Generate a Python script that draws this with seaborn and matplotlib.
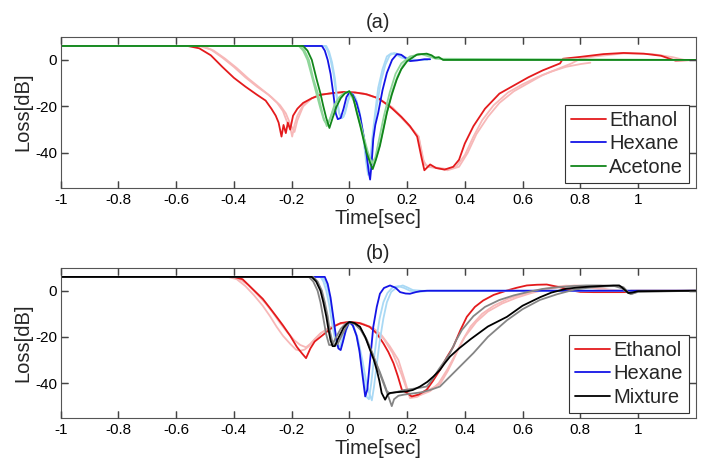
import matplotlib
matplotlib.use("Agg")
import matplotlib.pyplot as plt
import seaborn as sns

# ---------------- panel (a) ----------------
# Ethanol, main run and two repeats
eth_a_t = [-1.0, -0.56, -0.52, -0.48, -0.44, -0.40, -0.36, -0.32, -0.29, -0.27, -0.255, -0.245,
           -0.235, -0.228, -0.22, -0.213, -0.205, -0.195, -0.18, -0.16, -0.13, -0.10, -0.06, -0.02,
           0.02, 0.06, 0.10, 0.14, 0.18, 0.21, 0.235, 0.25, 0.26, 0.28, 0.30, 0.33, 0.36, 0.38, 0.40,
           0.43, 0.47, 0.52, 0.57, 0.62, 0.67, 0.72, 0.73, 0.74, 0.80, 0.88, 0.95, 1.02, 1.08, 1.11,
           1.13, 1.2]
eth_a_y = [6, 6, 5, 2, -3, -7.7, -11.5, -15, -17.5, -21, -24, -27,
           -33, -28, -31.5, -27, -30, -24, -21, -18.5, -16.5, -15, -14.3, -13.8,
           -14, -14.8, -16.5, -20, -24.5, -28.5, -33, -42, -47.5, -45, -46.5, -47.2, -46, -43, -36,
           -28.5, -21, -14.5, -11, -7.5, -4.5, -2, -1.5, 0.5, 1.3, 2.5, 3.0, 2.7, 1.8, 0.5,
           -0.3, 0]
eth_a_r1_t = [-1.0, -0.52, -0.48, -0.44, -0.40, -0.36, -0.32, -0.28, -0.25, -0.23, -0.215, -0.205,
              -0.198, -0.19, -0.18, -0.16, -0.13, -0.10, -0.05, 0.0, 0.05, 0.10, 0.15, 0.20, 0.24,
              0.26, 0.28, 0.31, 0.34, 0.37, 0.40, 0.43, 0.46, 0.50, 0.55, 0.60, 0.65, 0.70, 0.75,
              0.80, 0.835]
eth_a_r1_y = [6, 6, 4.5, 1, -3, -7.5, -11.5, -15, -18.5, -22, -27, -29,
              -33, -28, -24, -19.5, -16.5, -15, -14.2, -13.9, -14.5, -16.5, -21, -27.5, -33,
              -45, -46, -46.5, -47, -46, -41, -33, -26, -19.5, -14, -10.5, -7.5, -5, -3,
              -1.8, -1.2]
eth_a_r2_t = [-1.0, -0.51, -0.47, -0.43, -0.39, -0.35, -0.31, -0.27, -0.24, -0.22, -0.205, -0.19,
              -0.18, -0.16, -0.13, -0.10, -0.05, 0.0, 0.05, 0.10, 0.15, 0.20, 0.24, 0.255, 0.27,
              0.30, 0.34, 0.38, 0.41, 0.44, 0.48, 0.52, 0.57, 0.62, 0.67, 0.72, 0.77, 0.80, 0.85,
              0.95, 1.05, 1.12, 1.16]
eth_a_r2_y = [6, 6, 4, 0.5, -3.5, -8, -12, -16, -19.5, -23, -27.5, -31,
              -26, -20, -16.5, -15, -14.2, -13.9, -14.5, -16.5, -20.5, -27, -33, -43, -46,
              -46.5, -47.5, -46, -40, -32, -24.5, -18.5, -13.5, -10, -6.5, -4, -1.5, 0.5, 1.5,
              2.8, 2.5, 1.2, 0]

# Hexane
hex_a_t = [-1.0, -0.095, -0.085, -0.075, -0.065, -0.055, -0.047, -0.04, -0.03, -0.02, -0.01, 0.0,
           0.012, 0.025, 0.037, 0.05, 0.06, 0.067, 0.072, 0.077, 0.083, 0.09, 0.10, 0.115, 0.13,
           0.148, 0.165, 0.18, 0.195, 0.21, 0.235, 0.26, 0.28]
hex_a_y = [6, 6, 4, 0, -6, -15, -23, -25.5, -25, -21, -16, -14,
           -15, -18.5, -24, -33, -41, -48, -51.5, -45, -34, -28, -22.8, -13, -5.6,
           0, 2.5, 2.2, 0.8, -0.5, -0.2, 0.3, 0.3]
hex_a_r1_t = [-1.0, -0.085, -0.075, -0.065, -0.055, -0.045, -0.037, -0.03, -0.02, -0.01, 0.0, 0.012,
              0.025, 0.037, 0.05, 0.058, 0.065, 0.072, 0.08, 0.09, 0.10, 0.115, 0.13, 0.145, 0.16,
              0.18, 0.21, 0.24]
hex_a_r1_y = [6, 6, 4, 0, -6, -15, -22, -25, -24.5, -20, -15, -14.5,
              -17.5, -24, -35, -44, -49.5, -44, -33, -22, -12, -4, 1.5, 2.8, 2.5,
              1, 0, 0]
hex_a_r2_t = [-1.0, -0.08, -0.07, -0.06, -0.05, -0.042, -0.035, -0.025, -0.015, -0.005, 0.005, 0.02,
              0.035, 0.048, 0.058, 0.066, 0.075, 0.085, 0.095, 0.11, 0.125, 0.14, 0.155, 0.17, 0.2,
              0.23, 0.27]
hex_a_r2_y = [6, 6, 3.5, -1, -8, -17, -23, -25, -23, -18, -14.5, -16,
              -22, -32, -42, -48, -42, -30, -20, -9, -2, 2, 3, 2.5, 0.8,
              0, 0]

# Acetone
ace_a_t = [-1.0, -0.16, -0.145, -0.13, -0.113, -0.1, -0.09, -0.08, -0.069, -0.058, -0.044, -0.03,
           -0.015, 0.0, 0.013, 0.026, 0.038, 0.049, 0.06, 0.072, 0.081, 0.092, 0.106, 0.118, 0.13,
           0.147, 0.164, 0.18, 0.2, 0.234, 0.268, 0.285, 0.297, 0.31, 0.325, 0.34, 1.2]
ace_a_y = [6, 6, 4, 0, -8.5, -14.5, -20, -25, -29.3, -25, -20, -16.5,
           -14.3, -13.5, -16, -22.8, -28.5, -34.3, -40, -44.3, -47, -43, -37, -30, -22.8,
           -15, -8.5, -4, -0.6, 2.3, 2.7, 2, 0.9, 1.2, 0, 0, 0]
ace_a_r1_t = [-1.0, -0.17, -0.155, -0.14, -0.125, -0.11, -0.1, -0.09, -0.078, -0.066, -0.052, -0.035,
              -0.018, 0.0, 0.013, 0.026, 0.04, 0.052, 0.064, 0.075, 0.085, 0.096, 0.11, 0.122, 0.135,
              0.15, 0.167, 0.185, 0.205, 0.24, 0.27, 0.3, 0.33, 1.2]
ace_a_r1_y = [6, 6, 4, 0, -8, -14, -19.5, -24.5, -28.5, -25, -19.5, -16,
              -14.3, -13.5, -16, -22, -28, -34, -39.5, -43.5, -45, -41, -34, -27, -20,
              -13, -7, -2.5, 0.5, 2.5, 2.3, 1, 0, 0]
ace_a_r2_t = [-1.0, -0.175, -0.16, -0.145, -0.13, -0.115, -0.1, -0.088, -0.075, -0.06, -0.045, -0.025,
              0.0, 0.02, 0.04, 0.06, 0.078, 0.09, 0.105, 0.12, 0.14, 0.16, 0.18, 0.21, 0.25, 0.3, 1.2]
ace_a_r2_y = [6, 6, 4, 0, -7, -14, -21, -26, -28, -23, -18, -15,
              -13.5, -19, -29, -39, -44.5, -42, -33, -24, -14, -6, -1.5, 1.5, 2.5, 0.5, 0]

# ---------------- panel (b) ----------------
eth_b_t = [-1.0, -0.40, -0.37, -0.333, -0.30, -0.275, -0.252, -0.23, -0.205, -0.182, -0.165, -0.15,
           -0.135, -0.12, -0.10, -0.075, -0.055, -0.03, 0.0, 0.035, 0.07, 0.095, 0.118, 0.135,
           0.153, 0.168, 0.182, 0.2, 0.216, 0.24, 0.268, 0.29, 0.314, 0.337, 0.36, 0.385, 0.407,
           0.435, 0.464, 0.5, 0.546, 0.58, 0.615, 0.65, 0.684, 0.73, 0.776, 0.80, 0.846, 0.9,
           0.96, 0.975, 1.0, 1.2]
eth_b_y = [6, 6, 5, 0.5, -3.5, -7.5, -11.3, -15, -19.5, -24.3, -27, -29.2,
           -25, -22, -20, -17.5, -15.6, -14, -13.5, -14, -15.6, -18.5, -22.8, -26.5,
           -31.4, -37, -42.9, -44.3, -45.8, -45, -42.9, -39, -34.3, -29, -24.3, -17, -11.3,
           -7, -4.2, -1.8, 0.1, 1.3, 2.3, 2.6, 2.7, 1.5, 0, -0.5, -0.6, -0.6,
           -0.6, 0, 0, 0]
eth_b_r1_t = [-1.0, -0.42, -0.39, -0.36, -0.33, -0.30, -0.275, -0.252, -0.23, -0.205, -0.185, -0.17,
              -0.155, -0.14, -0.12, -0.10, -0.075, -0.05, -0.02, 0.0, 0.04, 0.08, 0.11, 0.14, 0.17,
              0.19, 0.21, 0.235, 0.26, 0.29, 0.314, 0.34, 0.36, 0.39, 0.42, 0.46, 0.50, 0.55, 0.60,
              0.65, 0.70, 0.75, 0.80, 0.85, 0.9, 0.95, 1.0, 1.2]
eth_b_r1_y = [6, 6, 5, 2, -2, -6.5, -11, -15.6, -19.5, -23, -25.5, -26,
              -25.5, -24, -21, -18.5, -16.5, -15, -14, -13.5, -14, -16, -19, -24, -30,
              -38, -46.5, -46, -44, -42, -40.5, -35, -30, -22, -15.5, -10, -6.5, -3.5, -1.5,
              0, 1.5, 2.2, 2, 1, 0, -0.3, 0, 0]
eth_b_r2_t = [-1.0, -0.41, -0.38, -0.35, -0.32, -0.29, -0.265, -0.24, -0.215, -0.19, -0.17, -0.15,
              -0.135, -0.12, -0.10, -0.07, -0.04, 0.0, 0.05, 0.09, 0.12, 0.15, 0.18, 0.20, 0.215,
              0.23, 0.25, 0.28, 0.31, 0.34, 0.37, 0.40, 0.44, 0.48, 0.53, 0.58, 0.63, 0.68, 0.73,
              0.78, 0.83, 0.9, 0.95, 1.2]
eth_b_r2_y = [6, 6, 5, 2.5, -1.5, -5.5, -9.5, -14, -18, -21.5, -23.5, -24.5,
              -23, -21, -18.5, -16, -14.5, -13.5, -14.5, -17, -21, -27, -36, -43, -46,
              -45.5, -45, -43.5, -40, -34, -27, -20, -13.5, -9, -5.5, -3, -1, 0.5, 1.5,
              2.3, 2, 0.5, 0, 0]

hex_b_t = [-1.0, -0.085, -0.075, -0.065, -0.055, -0.045, -0.038, -0.03, -0.022, -0.012, 0.0, 0.012,
           0.025, 0.035, 0.045, 0.055, 0.062, 0.072, 0.083, 0.095, 0.106, 0.12, 0.141, 0.16, 0.176,
           0.195, 0.21, 0.23, 0.245, 0.27, 1.2]
hex_b_y = [6, 6, 3, -3, -12, -21, -25, -25.7, -22, -17, -13.5, -15,
           -19.5, -26, -36, -45.8, -43, -30, -15.6, -7, -1.3, 1.2, 2.3, 1.3, -0.6,
           -1.2, -1.3, -0.6, -0.2, 0, 0]
hex_b_r1_t = [-1.0, -0.1, -0.09, -0.08, -0.07, -0.06, -0.05, -0.042, -0.034, -0.025, -0.012, 0.0,
              0.012, 0.025, 0.038, 0.05, 0.06, 0.068, 0.076, 0.085, 0.095, 0.105, 0.118, 0.132,
              0.15, 0.17, 0.19, 0.21, 0.24, 0.28, 1.2]
hex_b_r1_y = [6, 6, 4, 0, -6, -14, -21, -24, -24.5, -21, -16, -13.5,
              -15, -19.5, -28, -38, -46, -47, -40, -30, -20, -12, -5, -1,
              1.5, 2, 1.2, 0, -0.5, 0, 0]
hex_b_r2_t = [-1.0, -0.095, -0.085, -0.075, -0.065, -0.055, -0.047, -0.038, -0.028, -0.016, 0.0,
              0.015, 0.03, 0.045, 0.058, 0.068, 0.078, 0.085, 0.095, 0.105, 0.118, 0.13, 0.145,
              0.165, 0.185, 0.2, 0.22, 0.25, 0.3, 1.2]
hex_b_r2_y = [6, 6, 4.5, 1, -5, -13, -20, -24.5, -24, -19, -13.5,
              -15.5, -21, -30, -39, -44, -47.5, -42, -32, -22, -12, -5, -0.5,
              1.5, 2.3, 1.5, 0.3, 0, 0, 0]

mix_t = [-1.0, -0.13, -0.115, -0.10, -0.09, -0.08, -0.072, -0.065, -0.058, -0.05, -0.04, -0.03,
         -0.02, -0.01, 0.0, 0.018, 0.037, 0.055, 0.072, 0.085, 0.095, 0.104, 0.112, 0.124, 0.133,
         0.141, 0.16, 0.18, 0.199, 0.22, 0.245, 0.27, 0.291, 0.314, 0.33, 0.349, 0.38, 0.42,
         0.48, 0.546, 0.6, 0.661, 0.7, 0.753, 0.8, 0.834, 0.88, 0.915, 0.935, 0.944, 0.955,
         0.967, 0.98, 1.0, 1.2]
mix_y = [6, 6, 4, 0, -5, -11, -17, -21.5, -24, -24, -21, -18.5,
         -16, -14.5, -13.5, -14, -15.6, -20, -25.7, -30, -34.3, -39, -44.3, -47.2, -45,
         -44.3, -44, -43.8, -43.6, -43, -41.5, -39.5, -37.2, -34.3, -31.5, -28.5, -25, -21,
         -15.5, -11.3, -6.5, -2.8, -0.8, 0.9, 1.5, 1.8, 2.1, 2.3, 2.3, 1.5, 0.3,
         -1.0, -0.8, -0.2, 0]
mix_r1_t = [-1.0, -0.14, -0.125, -0.11, -0.1, -0.09, -0.08, -0.07, -0.06, -0.045, -0.03, -0.015,
            0.0, 0.02, 0.04, 0.06, 0.075, 0.09, 0.105, 0.12, 0.13, 0.14, 0.16, 0.19, 0.22, 0.245,
            0.268, 0.29, 0.31, 0.33, 0.349, 0.37, 0.39, 0.43, 0.47, 0.52, 0.57, 0.62, 0.67, 0.72,
            0.77, 0.82, 0.87, 0.92, 0.945, 0.96, 0.975, 1.0, 1.2]
mix_r1_y = [6, 6, 4, 0, -5, -12, -19, -23.5, -23.5, -20, -16.5, -14.5,
            -13.5, -14.5, -17, -21.5, -26, -30.5, -35, -40, -43.5, -44.5, -44, -43, -42.5, -42,
            -41.5, -38, -34, -30.5, -27, -21.5, -17, -11, -7, -4, -2, -0.5, 0.8, 1.5,
            2, 2.3, 2.3, 2, 1, -0.5, -1.5, -0.5, 0]
mix_r2_t = [-1.0, -0.125, -0.11, -0.095, -0.085, -0.075, -0.068, -0.06, -0.052, -0.04, -0.025, -0.01,
            0.0, 0.02, 0.04, 0.06, 0.08, 0.1, 0.115, 0.13, 0.14, 0.147, 0.155, 0.17, 0.19, 0.22,
            0.25, 0.28, 0.314, 0.35, 0.39, 0.43, 0.48, 0.546, 0.6, 0.66, 0.72, 0.78, 0.84, 0.9,
            0.935, 0.95, 0.965, 0.98, 1.0, 1.2]
mix_r2_y = [6, 6, 4, 0, -5, -11, -17, -21.5, -23.5, -23, -19, -15.5,
            -13.5, -14.5, -17, -21, -27, -34, -39, -44, -47.5, -50, -47, -45.5, -45, -44.5,
            -44, -43, -41.5, -37, -32, -27, -20, -12.8, -8, -4, -1.5, 0.5, 1.5, 2,
            2, 1.5, -0.5, -1.2, -0.3, 0]

xticks = [-1, -0.8, -0.6, -0.4, -0.2, 0, 0.2, 0.4, 0.6, 0.8, 1]
xticklabels = ["-1", "-0.8", "-0.6", "-0.4", "-0.2", "0", "0.2", "0.4", "0.6", "0.8", "1"]
yticks = [-40, -20, 0]
yticklabels = ["-40", "-20", "0"]

RED, PINK = "#e41a1c", "#f7b8b8"
BLUE, LBLUE = "#1414e6", "#a9d9f5"
GREEN, LGREEN = "#11861a", "#8fd69a"
BLACK, GRAY = "#000000", "#858585"
TICK = "#444444"

sns.set_style("ticks", {"xtick.direction": "in", "ytick.direction": "in",
                        "axes.edgecolor": "#555555"})
plt.rcParams.update({
    "font.family": ["Liberation Sans", "DejaVu Sans"],
    "axes.linewidth": 0.8,
    "xtick.major.pad": 4,
    "ytick.major.pad": 2.5,
})


def line(ax, t, y, color, label=None, lw=1.3):
    sns.lineplot(x=t, y=y, ax=ax, color=color, lw=lw, label=label,
                 estimator=None, sort=False, legend=False)


def inner_ticks(ax, frac_x=0.011, frac_y=0.046):
    # MATLAB-style short marks on all four sides, drawn in axes fractions
    xt = ax.get_xaxis_transform()
    yt = ax.get_yaxis_transform()
    kw = dict(colors=TICK, lw=0.9, zorder=3, clip_on=False)
    ax.vlines(xticks, 0, frac_y, transform=xt, **kw)
    ax.vlines(xticks, 1 - frac_y, 1, transform=xt, **kw)
    ax.hlines(yticks, 0, frac_x, transform=yt, **kw)
    ax.hlines(yticks, 1 - frac_x, 1, transform=yt, **kw)


def style_axes(ax, title):
    ax.set_xticks(xticks, xticklabels)
    ax.set_yticks(yticks, yticklabels)
    ax.set_xlabel("Time[sec]", fontsize=14.5, labelpad=1)
    ax.set_ylabel("Loss[dB]", fontsize=14.5, labelpad=2)
    ax.set_title(title, fontsize=14.5, pad=6)
    leg = ax.legend(loc="lower right", bbox_to_anchor=(0.9894, 0.033),
                    borderaxespad=0, fontsize=14.5, frameon=True, fancybox=False,
                    framealpha=1, edgecolor="#333333", labelspacing=0.22,
                    borderpad=0.3, handlelength=1.75, handletextpad=0.15)
    leg.get_frame().set_linewidth(0.8)
    leg.set_zorder(5)
    ax.xaxis.set_ticks_position("both")
    ax.yaxis.set_ticks_position("both")
    ax.tick_params(which="major", direction="in", length=5, width=0.9,
                   color=TICK, labelsize=11, labelcolor="black")
    inner_ticks(ax)
    ax.set_xlim(-1, 1.2)
    ax.set_ylim(-55, 10)


fig = plt.figure(figsize=(7.05, 4.71), dpi=100)
ax1 = fig.add_axes([0.0861, 0.6015, 0.9007, 0.3206])
ax2 = fig.add_axes([0.0861, 0.1132, 0.9007, 0.3185])

# (a)
line(ax1, eth_a_r1_t, eth_a_r1_y, PINK)
line(ax1, eth_a_r2_t, eth_a_r2_y, PINK)
line(ax1, eth_a_t, eth_a_y, RED, "Ethanol")
line(ax1, hex_a_r1_t, hex_a_r1_y, LBLUE)
line(ax1, hex_a_r2_t, hex_a_r2_y, LBLUE)
line(ax1, hex_a_t, hex_a_y, BLUE, "Hexane")
line(ax1, ace_a_r1_t, ace_a_r1_y, LGREEN)
line(ax1, ace_a_r2_t, ace_a_r2_y, LGREEN)
line(ax1, ace_a_t, ace_a_y, GREEN, "Acetone")
style_axes(ax1, "(a)")

# (b)
line(ax2, eth_b_r1_t, eth_b_r1_y, PINK)
line(ax2, eth_b_r2_t, eth_b_r2_y, PINK)
line(ax2, eth_b_t, eth_b_y, RED, "Ethanol")
line(ax2, hex_b_r1_t, hex_b_r1_y, LBLUE)
line(ax2, hex_b_r2_t, hex_b_r2_y, LBLUE)
line(ax2, hex_b_t, hex_b_y, BLUE, "Hexane")
line(ax2, mix_r1_t, mix_r1_y, GRAY)
line(ax2, mix_r2_t, mix_r2_y, GRAY)
line(ax2, mix_t, mix_y, BLACK, "Mixture")
style_axes(ax2, "(b)")

fig.savefig("out.png", dpi=100)
plt.close(fig)
